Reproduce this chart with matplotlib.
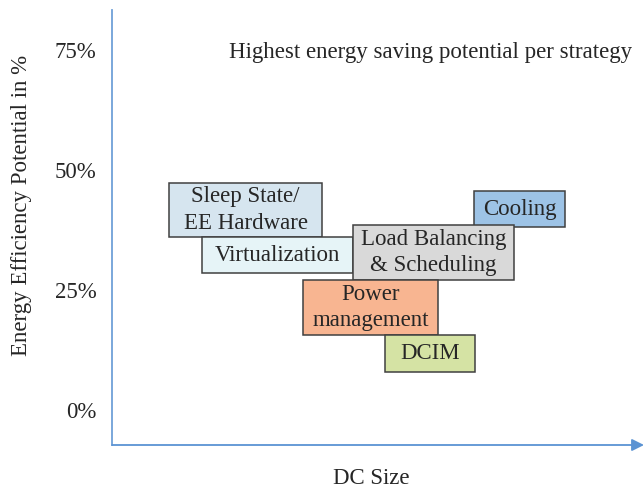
import matplotlib
matplotlib.use("Agg")
import matplotlib.pyplot as plt
from matplotlib.patches import Rectangle

plt.rcParams["font.family"] = ["Liberation Serif", "DejaVu Serif"]

# Strategy boxes: DC size range (0-100) and energy efficiency potential range (%)
labels = ["Sleep State/\nEE Hardware", "Virtualization", "Cooling",
          "Load Balancing\n& Scheduling", "Power\nmanagement", "DCIM"]
x_start = [10.7, 16.9, 68.0, 45.3, 35.9, 51.3]
x_end = [39.5, 45.3, 85.2, 75.6, 61.3, 68.2]
y_low = [36.0, 28.5, 38.1, 27.1, 15.6, 7.9]
y_high = [47.3, 36.0, 45.6, 38.5, 27.1, 15.6]
colors = ["#D6E5EF", "#E6F4F7", "#9DC3E6", "#D9D9D9", "#F8B591", "#D5E3A4"]

y_ticks = [0, 25, 50, 75]
y_tick_labels = ["0%", "25%", "50%", "75%"]

fs = 16.5
txt = "#262626"

fig = plt.figure(figsize=(6.44, 4.91), dpi=100)
ax = fig.add_axes([112 / 644, 46 / 491, 532 / 644, 435 / 491])
ax.set_xlim(0, 100)
ax.set_ylim(-7.3, 83.3)

for lab, x0, x1, y0, y1, c in zip(labels, x_start, x_end, y_low, y_high, colors):
    ax.add_patch(Rectangle((x0, y0), x1 - x0, y1 - y0, facecolor=c,
                           edgecolor="#404040", linewidth=1.1))
    ax.text((x0 + x1) / 2, (y0 + y1) / 2, lab, ha="center", va="center",
            fontsize=fs, color=txt, linespacing=1.35)

# axes drawn as blue lines, x axis with arrow head
for s in ax.spines.values():
    s.set_visible(False)
ax.plot([0, 0], [0, 1], transform=ax.transAxes, color="#6FA0D8",
        linewidth=1.3, clip_on=False)
ax.annotate("", xy=(1.0, 0), xytext=(0, 0), xycoords="axes fraction",
            arrowprops=dict(arrowstyle="-|>", color="#5B93D3", lw=1.3,
                            mutation_scale=18, shrinkA=0, shrinkB=0))

ax.set_xticks([])
ax.set_yticks(y_ticks)
ax.set_yticklabels(y_tick_labels, fontsize=fs, color=txt)
ax.tick_params(axis="y", length=0, pad=11)

ax.text(22, 74.4, "Highest energy saving potential per strategy",
        fontsize=fs, color=txt, ha="left", va="center")

fig.text(22 / 644, 1 - 205 / 491, "Energy Efficiency Potential in %",
         rotation=90, ha="center", va="center", fontsize=fs, color=txt)
fig.text(371 / 644, 1 - 478 / 491, "DC Size", ha="center", va="center",
         fontsize=fs, color=txt)

fig.savefig("out.png", dpi=100)
